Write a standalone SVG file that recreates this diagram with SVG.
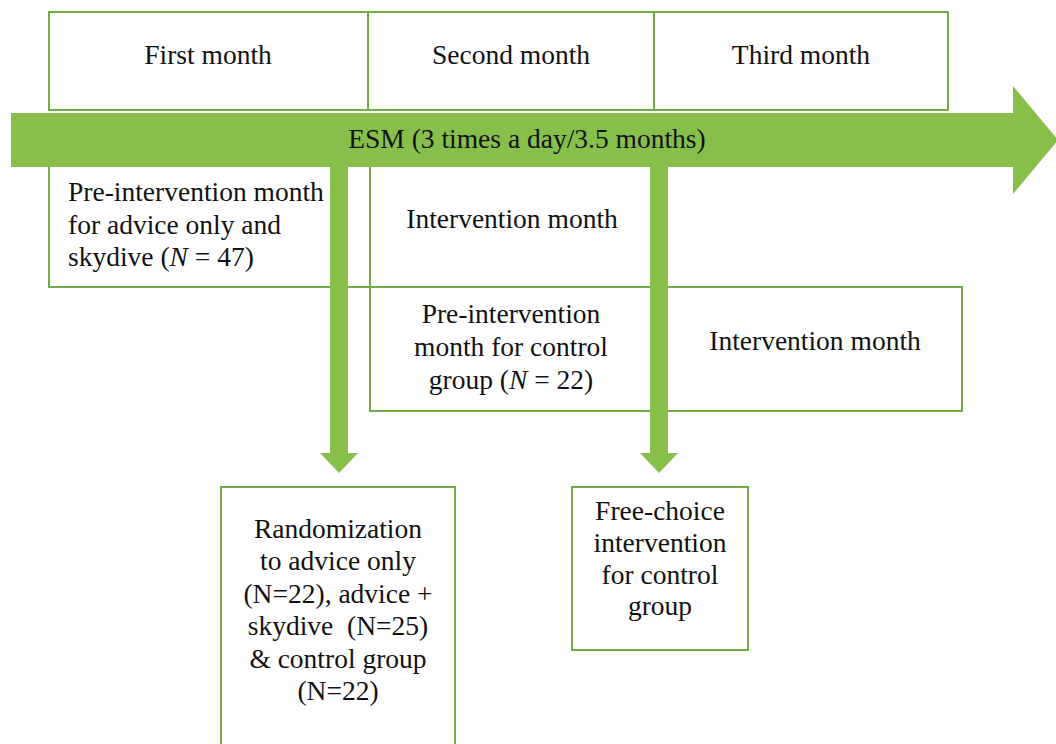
<svg xmlns="http://www.w3.org/2000/svg" width="1056" height="744" viewBox="0 0 1056 744">
<style>
.box{fill:#fff;stroke:#70ad47;stroke-width:2}
.t{font-family:"Liberation Serif","Times New Roman",serif;font-size:27.5px;fill:#111}
.c{text-anchor:middle}
.arr{fill:#88bf4b}
</style>
<rect width="1056" height="744" fill="#fff"/>
<g id="first-month"><rect class="box" x="49" y="12" width="319" height="98"/><text class="t c" x="208" y="64">First month</text></g>
<g id="second-month"><rect class="box" x="368" y="12" width="286" height="98"/><text class="t c" x="511" y="64">Second month</text></g>
<g id="third-month"><rect class="box" x="654" y="12" width="294" height="98"/><text class="t c" x="801" y="64">Third month</text></g>
<g id="pre-intervention-advice"><rect class="box" x="49" y="160" width="321" height="127"/>
<text class="t" x="68" y="201">Pre-intervention month</text>
<text class="t" x="68" y="234">for advice only and</text>
<text class="t" x="68" y="266">skydive (<tspan font-style="italic">N</tspan> = 47)</text></g>
<g id="intervention-month-1"><rect class="box" x="370" y="160" width="289" height="127"/><text class="t c" x="512" y="228">Intervention month</text></g>
<g id="pre-intervention-control"><rect class="box" x="370" y="287" width="289" height="124"/>
<text class="t c" x="511" y="323">Pre-intervention</text>
<text class="t c" x="511" y="356">month for control</text>
<text class="t c" x="511" y="389">group (<tspan font-style="italic">N</tspan> = 22)</text></g>
<g id="intervention-month-2"><rect class="box" x="659" y="287" width="303" height="124"/><text class="t c" x="815" y="350">Intervention month</text></g>
<g id="connectors">
<polygon class="arr" points="11,113 1013,113 1013,86 1058,140 1013,194 1013,167 11,167"/>
<polygon class="arr" points="330,160 348,160 348,453 358,453 339,473 320,453 330,453"/>
<polygon class="arr" points="650,160 668,160 668,453 678,453 659,473 640,453 650,453"/>
<text class="t c" x="527" y="148">ESM (3 times a day/3.5 months)</text>
</g>
<g id="randomization"><rect class="box" x="221" y="487" width="234" height="270"/>
<text class="t c" x="338" y="538">Randomization</text>
<text class="t c" x="338" y="570">to advice only</text>
<text class="t c" x="338" y="603">(N=22), advice +</text>
<text class="t c" x="338" y="635" xml:space="preserve">skydive  (N=25)</text>
<text class="t c" x="338" y="668">&amp; control group</text>
<text class="t c" x="338" y="700">(N=22)</text></g>
<g id="free-choice"><rect class="box" x="572" y="487" width="176" height="163"/>
<text class="t c" x="660" y="520">Free-choice</text>
<text class="t c" x="660" y="552">intervention</text>
<text class="t c" x="660" y="584">for control</text>
<text class="t c" x="660" y="615">group</text></g>
</svg>
